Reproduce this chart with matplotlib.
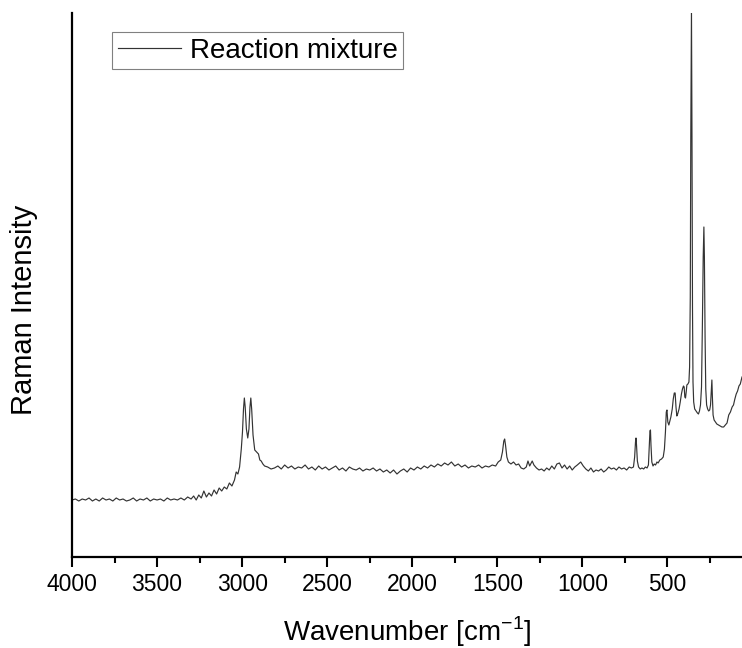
import numpy as np
import matplotlib
matplotlib.use('Agg')
import matplotlib.pyplot as plt
from matplotlib.ticker import MultipleLocator

plt.rcParams['font.family'] = ['Liberation Sans', 'DejaVu Sans']
plt.rcParams['mathtext.fontset'] = 'custom'
plt.rcParams['mathtext.rm'] = 'Liberation Sans'

# Raman spectrum (intensity in arbitrary units)
wavenumber = [
    4000, 3980, 3960, 3940, 3920, 3900, 3880, 3860, 3840, 3820, 3800, 3780, 3760, 3740,
    3720, 3700, 3680, 3660, 3640, 3620, 3600, 3580, 3560, 3540, 3520, 3500, 3480, 3460,
    3440, 3420, 3400, 3380, 3360, 3340, 3320,
    3300, 3285, 3270, 3255, 3240, 3225, 3210, 3195, 3180, 3165, 3150, 3135, 3120, 3105,
    3090, 3075, 3060, 3045, 3035, 3025, 3015, 3005,
    2998, 2992, 2987, 2982, 2975, 2967, 2960, 2954, 2949, 2944, 2936, 2926, 2915, 2904,
    2896, 2888, 2878, 2868,
    2850, 2830, 2810, 2790, 2770, 2750, 2730, 2710, 2690, 2670, 2650, 2630, 2610, 2590,
    2570, 2550, 2530, 2510, 2490, 2470, 2450, 2430, 2410, 2390, 2370, 2350, 2330, 2310,
    2290, 2270, 2250, 2230, 2210, 2190, 2170, 2150, 2130, 2110, 2090, 2070, 2050, 2030,
    2010, 1990, 1970, 1950, 1930, 1910, 1890, 1870, 1850, 1830, 1810, 1790, 1770, 1750,
    1730, 1710, 1690, 1670, 1650, 1630, 1610, 1590, 1570, 1550, 1530, 1510, 1495, 1480,
    1470, 1462, 1457, 1452, 1444, 1435, 1420, 1405, 1390, 1375, 1360, 1345, 1330, 1320,
    1310, 1295, 1285, 1270, 1255, 1240, 1225, 1210, 1195, 1180, 1165, 1150, 1135, 1120,
    1105, 1090, 1075, 1060, 1045, 1030, 1010, 995, 980, 965, 950, 935, 920, 905,
    890, 875, 860, 845, 830, 815, 800, 785, 770, 755, 740, 725, 712, 700,
    693, 688, 685, 682, 677, 670, 660, 650, 640, 630, 620, 612, 607, 603,
    600, 597, 592, 585, 578, 570, 562, 555, 545, 535, 525, 518, 512, 507,
    503, 498, 492, 486, 480, 472, 466, 460, 455, 450, 445, 440, 432, 425,
    418, 412, 406, 402, 398, 394, 390, 386, 380, 374, 370, 366, 363, 359,
    356, 353, 350, 346, 340, 332, 324, 318, 312, 306, 300, 295, 290, 286,
    283, 279, 275, 270, 264, 258, 252, 247, 243, 239, 236, 232, 226, 218,
    210, 200, 190, 180, 170, 160, 150, 140, 130, 120, 112, 104, 96, 88,
    80, 72, 66, 62,
]
intensity = [
    57, 58, 56, 58, 57, 59, 56, 58, 56, 59, 57, 58, 56, 59,
    57, 58, 56, 57, 59, 56, 58, 57, 59, 56, 58, 57, 58, 56,
    59, 57, 58, 57, 59, 57, 60,
    58, 61, 57, 62, 59, 66, 60, 64, 61, 67, 63, 69, 66, 70,
    68, 74, 71, 77, 85, 83, 90, 108,
    125, 148, 159, 150, 128, 119, 128, 150, 159, 148, 122, 107, 105, 103,
    97, 96, 93, 91,
    90, 88, 89, 91, 88, 92, 89, 91, 88, 90, 89, 92, 88, 90,
    87, 91, 88, 90, 87, 89, 91, 87, 89, 86, 90, 88, 87, 89,
    86, 88, 87, 89, 86, 88, 85, 87, 84, 87, 83, 86, 88, 85,
    89, 87, 90, 88, 91, 89, 92, 90, 93, 91, 94, 92, 95, 91,
    93, 90, 92, 89, 91, 90, 92, 89, 91, 90, 92, 91, 95, 97,
    105, 116, 118, 112, 100, 95, 93, 95, 92, 93, 89, 88, 90, 96,
    91, 96, 92, 89, 87, 88, 86, 89, 87, 91, 88, 93, 94, 89,
    92, 88, 91, 87, 90, 92, 95, 91, 88, 86, 89, 85, 87, 86,
    88, 85, 87, 90, 88, 89, 87, 90, 88, 89, 87, 90, 89, 90,
    100, 115, 119, 112, 96, 90, 88, 89, 88, 90, 89, 92, 110, 126,
    127, 112, 95, 91, 93, 92, 95, 94, 97, 98, 100, 108, 125, 145,
    147, 135, 132, 136, 140, 148, 158, 164, 164, 150, 141, 143, 148, 155,
    163, 168, 171, 170, 160, 159, 165, 172, 173, 175, 190, 260, 420, 548,
    420, 250, 175, 155, 148, 146, 144, 143, 146, 152, 170, 230, 300, 330,
    300, 220, 168, 152, 148, 146, 147, 152, 165, 177, 160, 142, 137, 135,
    133, 132, 131, 130, 130, 132, 134, 142, 145, 150, 152, 158, 163, 166,
    171, 173, 177, 180,
]

fig = plt.figure(figsize=(7.42, 6.48), dpi=100)
ax = fig.add_axes([72 / 742, 1 - 557 / 648, 670 / 742, 544 / 648])

ax.plot(wavenumber, intensity, color='#333333', lw=0.85, label='Reaction mixture')

ax.set_xlim(4000, 62)
ax.set_ylim(0, 544)
ax.set_yticks([])
ax.xaxis.set_major_locator(MultipleLocator(500))
ax.xaxis.set_minor_locator(MultipleLocator(250))
ax.tick_params(axis='x', which='major', direction='out', length=7.5, width=1.5, labelsize=16.5, pad=4)
ax.tick_params(axis='x', which='minor', direction='out', length=4, width=1.5)

for s in ['top', 'right']:
    ax.spines[s].set_visible(False)
for s in ['left', 'bottom']:
    ax.spines[s].set_linewidth(1.6)

ax.set_xlabel(r'Wavenumber [cm$^{\mathregular{-1}}$]', fontsize=20)
ax.xaxis.set_label_coords(0.5, -0.105)
ax.set_ylabel('Raman Intensity', fontsize=21)
ax.yaxis.set_label_coords(-0.05, 0.454)

leg = ax.legend(loc='upper left', bbox_to_anchor=(0.0597, 0.965), fontsize=20,
                handlelength=2.3, handletextpad=0.3, borderpad=0.2, borderaxespad=0,
                fancybox=False, framealpha=1)
leg.get_frame().set_edgecolor('#808080')
leg.get_frame().set_linewidth(0.8)

fig.savefig('out.png', dpi=100)
